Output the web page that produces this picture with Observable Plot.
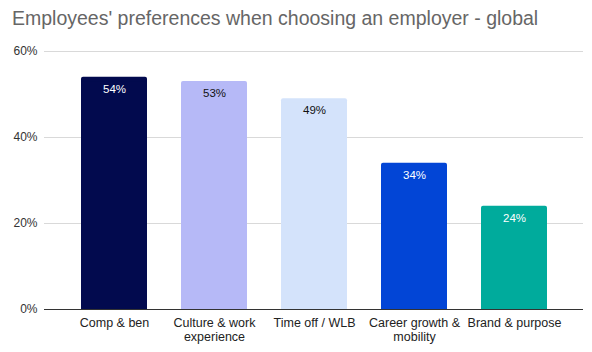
<!DOCTYPE html>
<html>
<head>
<meta charset="utf-8">
<script src="https://cdn.jsdelivr.net/npm/d3@7"></script>
<script src="https://cdn.jsdelivr.net/npm/@observablehq/plot@0.6"></script>
<style>
  html, body { margin: 0; padding: 0; background: #fff; }
  body { width: 592px; height: 352px; overflow: hidden; font-family: "Liberation Sans", Arial, sans-serif; }
  #title { height: 40px; box-sizing: border-box; padding: 7px 0 0 12px; font-size: 19.5px; color: #666; white-space: nowrap; }
  svg { display: block; }
</style>
</head>
<body>
<div id="title">Employees' preferences when choosing an employer - global</div>
<div id="chart"></div>
<script>
const categories = ["Comp & ben", "Culture & work\nexperience", "Time off / WLB", "Career growth &\nmobility", "Brand & purpose"];
const values = [54, 53, 49, 34, 24];
const colors = ["#020a4e", "#b6b9f7", "#d4e3fb", "#0245d6", "#00ab9c"];
const labelColors = ["#ffffff", "#111111", "#111111", "#ffffff", "#ffffff"];
const yTicks = [0, 20, 40, 60];

const data = categories.map((c, i) => ({cat: c, value: values[i], color: colors[i], lc: labelColors[i]}));

const chart = Plot.plot({
  width: 592,
  height: 312,
  marginTop: 11,
  marginBottom: 43,
  marginLeft: 44,
  marginRight: 9,
  style: {fontFamily: "Liberation Sans, Arial, sans-serif", fontSize: "12px", color: "#222"},
  x: {domain: categories, range: [61.6, 565.4], paddingInner: 0.345, paddingOuter: 0.1725, label: null},
  y: {domain: [0, 60], ticks: yTicks, tickFormat: d => d + "%", label: null},
  marks: [
    Plot.ruleY(yTicks.filter(d => d > 0), {stroke: "#d9d9d9", strokeWidth: 1}),
    Plot.barY(data, {x: "cat", y: "value", fill: "color", rx: 2}),
    Plot.rectY(data, {x: "cat", y1: 0, y2: d => Math.max(0, d.value - 1), fill: "color"}),
    Plot.ruleY([0], {stroke: "#333", strokeWidth: 1}),
    Plot.text(data, {x: "cat", y: "value", text: d => d.value + "%", fill: "lc", dy: 12, fontSize: 11.5}),
    Plot.axisY({ticks: yTicks, tickFormat: d => d + "%", tickSize: 0, tickPadding: 7, fill: "#333", fontSize: 12, label: null}),
    Plot.axisX({tickSize: 0, tickPadding: 8, fill: "#222", fontSize: 12.5, label: null, lineHeight: 1.12})
  ]
});
document.getElementById("chart").appendChild(chart);
</script>
</body>
</html>
